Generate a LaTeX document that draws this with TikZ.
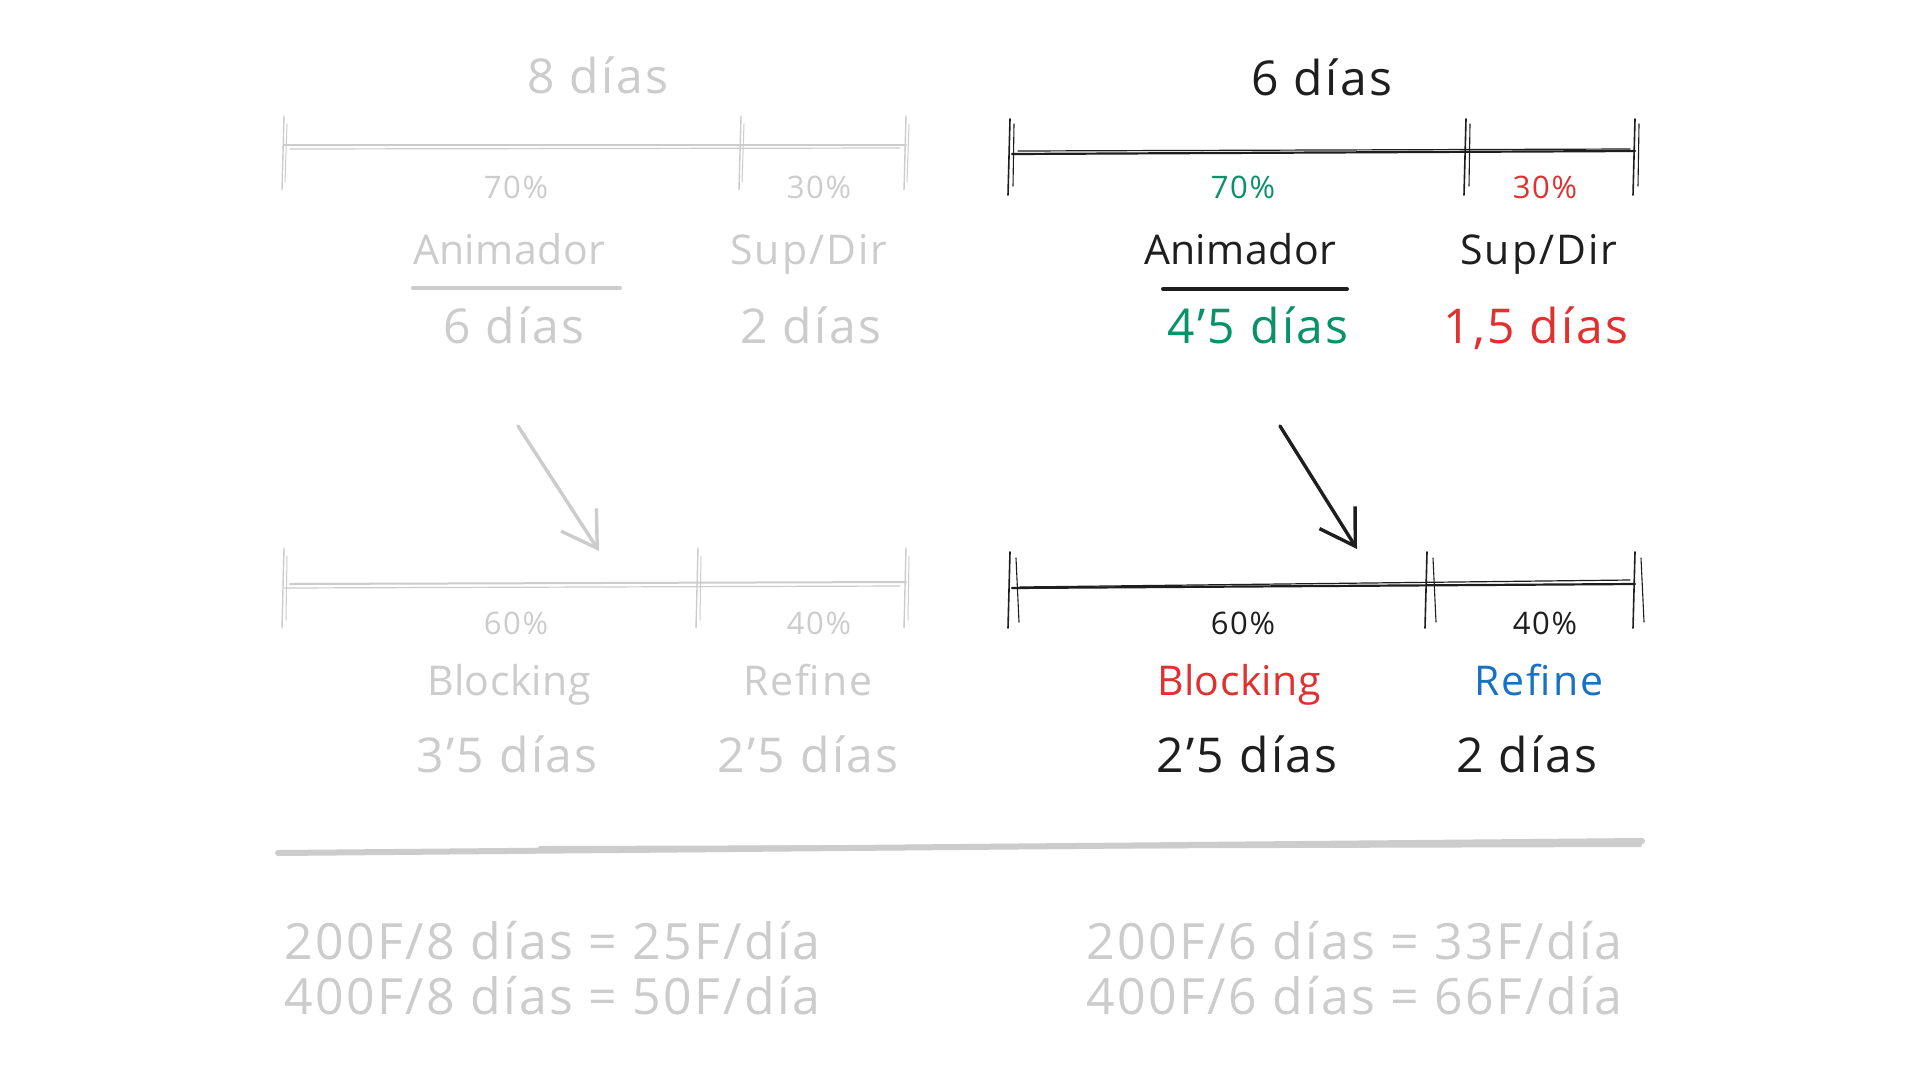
\documentclass[tikz,border=0pt]{standalone}
\usepackage{fontspec}
\setmainfont{Open Sans}[LetterSpace=5]
\usepackage{tikz}
\usetikzlibrary{arrows.meta}

\definecolor{fadegray}{HTML}{CCCCCC}
\definecolor{inkblack}{HTML}{1E1E1E}
\definecolor{inkgreen}{HTML}{099268}
\definecolor{inkred}{HTML}{E03131}
\definecolor{inkblue}{HTML}{1971C2}

\newcommand\bigfont{\fontsize{41}{48}\selectfont}
\newcommand\dayfont{\fontsize{48}{54}\selectfont}
\newcommand\pctfont{\fontsize{31}{36}\selectfont}
\newcommand\sumfont{\fontsize{50}{58}\selectfont}

\tikzset{
  txt/.style={inner sep=0pt, text height=0.7em, text depth=0pt, font=\bigfont},
  tight/.style={txt, font=\bigfont\addfontfeatures{LetterSpace=1}},
  days/.style={txt, font=\dayfont},
  pct/.style={txt, font=\pctfont},
  sumtxt/.style={txt, font=\sumfont, anchor=west, text=fadegray},
  fadeline/.style={draw=fadegray, line width=2pt, line cap=round},
  inkline/.style={draw=inkblack, line width=2.2pt, line cap=round},
  pointer/.style={-{Straight Barb[length=34pt,width=42pt]}, line width=3.4pt, line cap=round}
}

\begin{document}
\begin{tikzpicture}[x=1pt,y=-1pt]
      \useasboundingbox (0,0) rectangle (1920,1080);
      \fill[white] (0,0) rectangle (1920,1080);

      % 8 dias (before)
      \node[days, text=fadegray] (oldTotal) at (598,90) {8 días};

      \draw[fadeline] (284,145) -- (906,145);
      \draw[fadeline, line width=1.2pt] (290,149) -- (900,148);
      \foreach \x in {284,741,906} {
          \draw[fadeline, line width=1.4pt] (\x,116) -- (\x-2,190);
          \draw[fadeline, line width=1pt] (\x+3,124) -- (\x+1,182);
      }

      \node[pct, text=fadegray] (oldPctAnim) at (516,195) {70\%};
      \node[pct, text=fadegray] (oldPctSup) at (819,195) {30\%};
      \node[tight, text=fadegray] (oldAnim) at (509,261) {Animador};
      \node[txt, text=fadegray] (oldSup) at (809,261) {Sup/Dir};
      \draw[fadeline, line width=4pt] (413,288) -- (620,288);
      \node[days, text=fadegray] (oldDaysAnim) at (514,340) {6 días};
      \node[days, text=fadegray] (oldDaysSup) at (811,340) {2 días};

      % 6 dias (after)
      \node[days, text=inkblack] (newTotal) at (1322,92) {6 días};

      \draw[inkline] (1012,154) -- (1635,151);
      \draw[inkline, line width=1.2pt] (1018,151) -- (1630,149);
      \foreach \x in {1010,1466,1635} {
          \draw[inkline, line width=1.6pt] (\x,119) -- (\x-2,195);
          \draw[inkline, line width=1.1pt] (\x+4,124) -- (\x+3,186);
      }

      \node[pct, text=inkgreen] (newPctAnim) at (1243,195) {70\%};
      \node[pct, text=inkred] (newPctSup) at (1545,195) {30\%};
      \node[tight, text=inkblack] (newAnim) at (1240,261) {Animador};
      \node[txt, text=inkblack] (newSup) at (1539,261) {Sup/Dir};
      \draw[inkline, line width=4pt] (1163,289) -- (1347,289);
      \node[days, text=inkgreen] (newDaysAnim) at (1258,340) {4'5 días};
      \node[days, text=inkred] (newDaysSup) at (1536,340) {1,5 días};

      % arrows
      \coordinate (oldFrom) at (518,426);
      \coordinate (oldTo) at (599,551);
      \coordinate (newFrom) at (1280,426);
      \coordinate (newTo) at (1357,549);
      \draw[pointer, draw=fadegray] (oldFrom) -- (oldTo);
      \draw[pointer, draw=inkblack] (newFrom) -- (newTo);

      % blocking / refine (before)
      \draw[fadeline] (290,584) -- (906,582);
      \draw[fadeline, line width=1.2pt] (284,588) -- (900,586);
      \foreach \x in {284,698,906} {
          \draw[fadeline, line width=1.4pt] (\x,548) -- (\x-2,628);
          \draw[fadeline, line width=1pt] (\x+3,556) -- (\x+2,620);
      }

      \node[pct, text=fadegray] (oldPctBlock) at (516,631) {60\%};
      \node[pct, text=fadegray] (oldPctRef) at (819,631) {40\%};
      \node[tight, text=fadegray] (oldBlock) at (509,692) {Blocking};
      \node[txt, text=fadegray] (oldRef) at (808,692) {Refine};
      \node[days, text=fadegray] (oldDaysBlock) at (507,769) {3'5 días};
      \node[days, text=fadegray] (oldDaysRef) at (808,769) {2'5 días};

      % blocking / refine (after)
      \draw[inkline] (1012,588) -- (1635,584);
      \draw[inkline, line width=1.2pt] (1020,587) -- (1630,580);
      \foreach \x in {1010,1427,1635} {
          \draw[inkline, line width=1.6pt] (\x,552) -- (\x-2,628);
          \draw[inkline, line width=1.1pt] (\x+6,558) -- (\x+9,622);
      }

      \node[pct, text=inkblack] (newPctBlock) at (1243,631) {60\%};
      \node[pct, text=inkblack] (newPctRef) at (1545,631) {40\%};
      \node[tight, text=inkred] (newBlock) at (1239,692) {Blocking};
      \node[txt, text=inkblue] (newRef) at (1539,692) {Refine};
      \node[days, text=inkblack] (newDaysBlock) at (1247,769) {2'5 días};
      \node[days, text=inkblack] (newDaysRef) at (1527,769) {2 días};

      % separator
      \draw[fadeline, line width=6pt] (278,853) -- (1642,841);
      \draw[fadeline, line width=4pt] (540,848) -- (1640,845);

      % frames per day
      \node[sumtxt] (oldRate200) at (284,956) {200F/8 días = 25F/día};
      \node[sumtxt] (oldRate400) at (284,1011) {400F/8 días = 50F/día};
      \node[sumtxt] (newRate200) at (1086,956) {200F/6 días = 33F/día};
      \node[sumtxt] (newRate400) at (1086,1011) {400F/6 días = 66F/día};
\end{tikzpicture}
\end{document}
